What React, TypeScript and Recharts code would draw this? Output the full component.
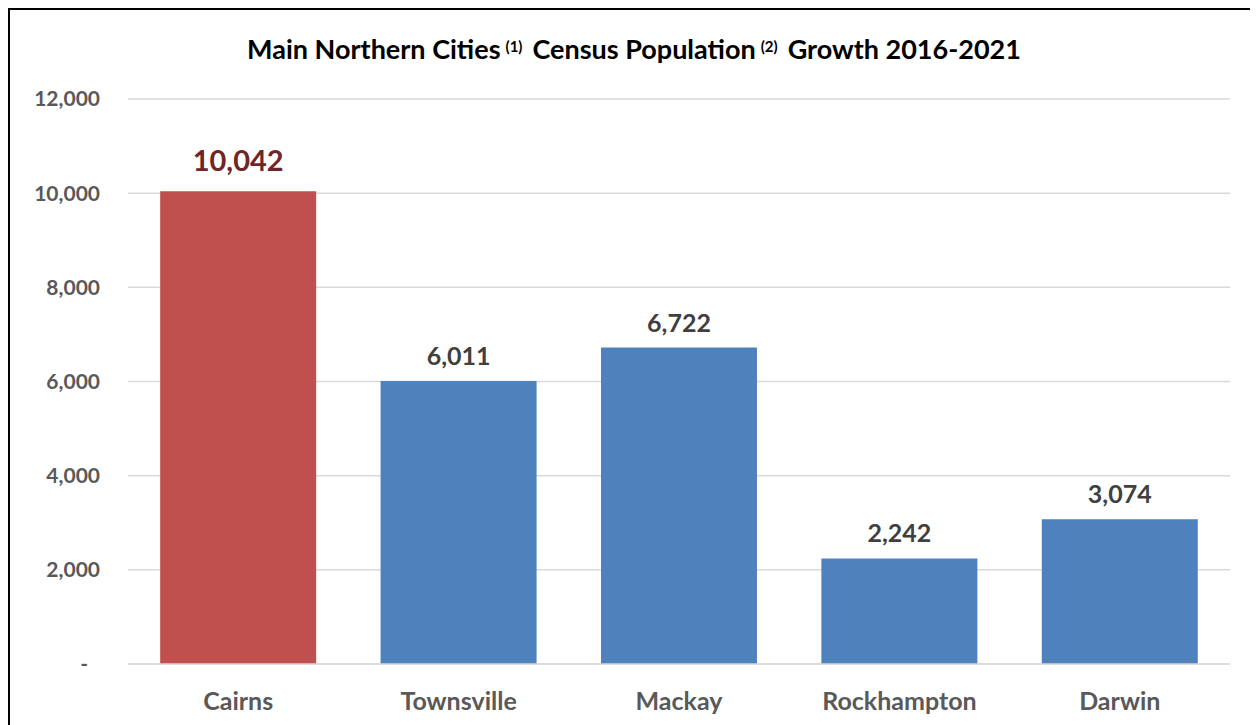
import type { JSX } from "react";
import { Bar, BarChart, CartesianGrid, Cell, LabelList, XAxis, YAxis } from "recharts";

const cities = ["Cairns", "Townsville", "Mackay", "Rockhampton", "Darwin"];
const growth = [10042, 6011, 6722, 2242, 3074];
const yTicks = [0, 2000, 4000, 6000, 8000, 10000, 12000];

const FONT = "Lato, 'Open Sans', sans-serif";
const RED = "#C0504D";
const BLUE = "#4F81BD";

const rows = cities.map((city, i) => ({ city, value: growth[i] }));

function YTick(props: any): JSX.Element {
  const { x, y, payload } = props;
  const v = payload.value as number;
  const text = v === 0 ? "-" : v.toLocaleString("en-US");
  return (
    <text
      x={v === 0 ? x - 12 : x}
      y={y}
      dy="0.35em"
      textAnchor="end"
      fontFamily={FONT}
      fontWeight={700}
      fontSize={21}
      fill="#595959"
    >
      {text}
    </text>
  );
}

function ValueLabel(props: any): JSX.Element {
  const { x, y, width, value, index } = props;
  const first = index === 0;
  return (
    <text
      x={x + width / 2}
      y={first ? y - 20 : y - 16}
      textAnchor="middle"
      fontFamily={FONT}
      fontWeight={700}
      fontSize={first ? 29 : 25}
      fill={first ? "#6E2626" : "#404040"}
    >
      {Number(value).toLocaleString("en-US")}
    </text>
  );
}

export default function App(): JSX.Element {
  const sup = { fontSize: 15, verticalAlign: "top", position: "relative" as const, top: -3, margin: "0 10px 0 5px" };
  return (
    <div
      style={{
        position: "relative",
        width: 1248,
        height: 715,
        borderTop: "2px solid #000",
        borderLeft: "2px solid #000",
        background: "#fff",
        fontFamily: FONT,
      }}
    >
      <div
        style={{
          position: "absolute",
          top: 23,
          left: 0,
          width: "100%",
          textAlign: "center",
          fontSize: 27,
          fontWeight: 700,
          color: "#000",
          lineHeight: "32px",
        }}
      >
        Main Northern Cities<span style={sup}>(1)</span>Census Population<span style={sup}>(2)</span>Growth 2016-2021
      </div>
      <BarChart
        width={1248}
        height={715}
        data={rows}
        margin={{ top: 89, right: 28, left: 0, bottom: 0 }}
        barCategoryGap="14.6%"
      >
        <CartesianGrid vertical={false} stroke="#D9D9D9" strokeWidth={1.5} />
        <XAxis
          dataKey="city"
          height={61}
          tickLine={false}
          axisLine={{ stroke: "#D9D9D9", strokeWidth: 1.5 }}
          tickMargin={22}
          tick={{ fontFamily: FONT, fontWeight: 700, fontSize: 25, fill: "#595959" }}
        />
        <YAxis
          width={118}
          domain={[0, 12000]}
          ticks={yTicks}
          interval={0}
          axisLine={false}
          tickLine={false}
          tickSize={0}
          tickMargin={28}
          tick={<YTick />}
        />
        <Bar dataKey="value" isAnimationActive={false}>
          {rows.map((r, i) => (
            <Cell key={r.city} fill={i === 0 ? RED : BLUE} />
          ))}
          <LabelList dataKey="value" content={<ValueLabel />} />
        </Bar>
      </BarChart>
    </div>
  );
}
